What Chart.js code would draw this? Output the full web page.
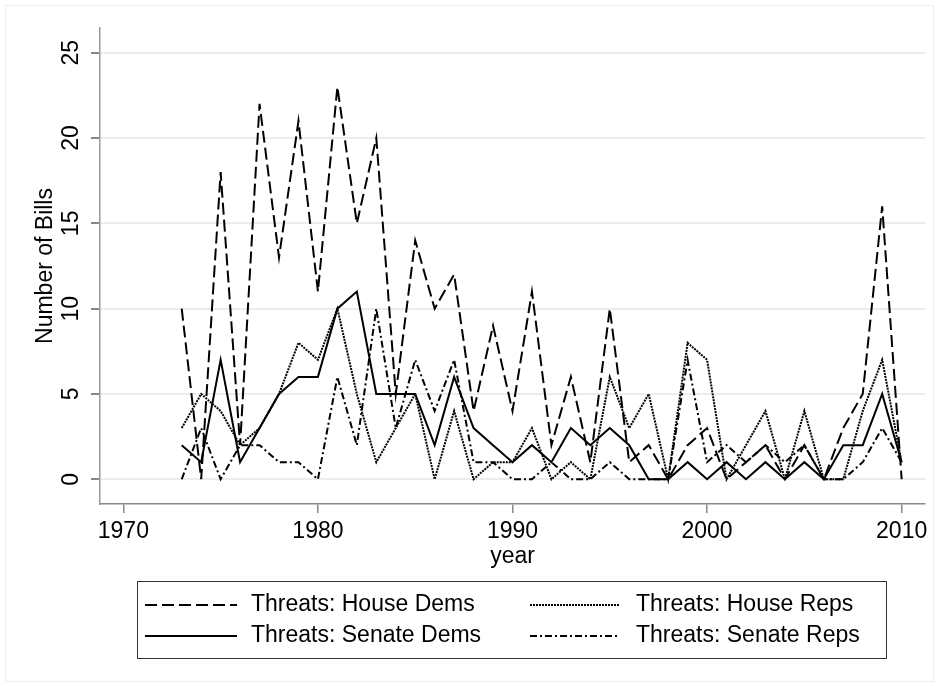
<!DOCTYPE html>
<html><head><meta charset="utf-8">
<script src="https://cdn.jsdelivr.net/npm/chart.js@4/dist/chart.umd.min.js"></script>
<style>html,body{margin:0;padding:0;background:#fff}#wrap{width:939px;height:687px;position:relative}</style>
</head><body><div id="wrap"><canvas id="c" width="939" height="687"></canvas></div>
<script>
const years = [1973,1974,1975,1976,1977,1978,1979,1980,1981,1982,1983,1984,1985,1986,1987,1988,1989,1990,1991,1992,1993,1994,1995,1996,1997,1998,1999,2000,2001,2002,2003,2004,2005,2006,2007,2008,2009,2010];
const houseDems  = [10,0,18,2,22,13,21,11,23,15,20,5,14,10,12,4,9,4,11,2,6,1,10,1,2,0,2,3,0,1,2,0,2,0,3,5,16,0];
const houseReps  = [3,5,4,2,3,5,8,7,10,5,1,3,5,0,4,0,1,1,3,0,1,0,6,3,5,0,8,7,0,2,4,0,4,0,0,4,7,1];
const senateDems = [2,1,7,1,3,5,6,6,10,11,5,5,5,2,6,3,2,1,2,1,3,2,3,2,0,0,1,0,1,0,1,0,1,0,2,2,5,1];
const senateReps = [0,3,0,2,2,1,1,0,6,2,10,3,7,4,7,1,1,0,0,1,0,0,1,0,0,0,7,1,2,1,2,1,2,0,0,1,3,1];
const seriesNames = ['Threats: House Dems','Threats: House Reps','Threats: Senate Dems','Threats: Senate Reps'];
const xTicks = [1970,1980,1990,2000,2010];
const yTicks = [0,5,10,15,20,25];
const xTitle = 'year';
const yTitle = 'Number of Bills';

const FONT = 'Liberation Sans, Arial, sans-serif';
const FS = 23;
const toPts = arr => arr.map((v,i)=>({x: years[i], y: v}));
const styles = [
  {dash:[12,5], w:2},
  {dash:[2,1], w:2},
  {dash:[], w:2},
  {dash:[7,3,2,3], w:2}
];
const series = [houseDems, houseReps, senateDems, senateReps];
const datasets = series.map((s,i)=>({
  label: seriesNames[i], data: toPts(s), borderColor:'#000', backgroundColor:'#000',
  borderWidth: styles[i].w, borderDash: styles[i].dash, pointRadius:0, tension:0, fill:false,
  borderCapStyle:'butt', borderJoinStyle:'miter'
}));

const extras = {
  id:'extras',
  beforeDraw(chart){
    const ctx = chart.ctx;
    ctx.save(); ctx.fillStyle='#fff'; ctx.fillRect(0,0,chart.width,chart.height);
    ctx.strokeStyle='#eceff2'; ctx.lineWidth=1; ctx.strokeRect(5.5,5.5,chart.width-11,chart.height-11);
    ctx.restore();
  },
  afterDraw(chart){
    const ctx = chart.ctx, ca = chart.chartArea;
    ctx.save();
    ctx.fillStyle='#000'; ctx.font=FS+'px '+FONT; ctx.textAlign='center'; ctx.textBaseline='middle';
    ctx.fillText(xTitle, (ca.left+ca.right)/2, 557);
    ctx.translate(46,(ca.top+ca.bottom)/2); ctx.rotate(-Math.PI/2); ctx.fillText(yTitle,0,0);
    ctx.restore();
    // legend
    ctx.save();
    ctx.strokeStyle='#333'; ctx.lineWidth=1; ctx.strokeRect(137.5,581.5,749,77);
    const cols=[{s:145,e:237,t:251},{s:530,e:620,t:636}];
    const rows=[605,636];
    chart.data.datasets.forEach((ds,i)=>{
      const c=cols[i%2], r=rows[Math.floor(i/2)];
      ctx.beginPath(); ctx.setLineDash(ds.borderDash||[]); ctx.lineWidth=ds.borderWidth; ctx.strokeStyle=ds.borderColor;
      ctx.moveTo(c.s,r); ctx.lineTo(c.e,r); ctx.stroke(); ctx.setLineDash([]);
      ctx.fillStyle='#000'; ctx.font=FS+'px '+FONT; ctx.textAlign='left'; ctx.textBaseline='middle';
      ctx.fillText(ds.label,c.t,r);
    });
    ctx.restore();
  }
};

new Chart(document.getElementById('c'),{
  type:'line',
  data:{datasets},
  options:{
    responsive:false, animation:false, devicePixelRatio:1,
    layout:{padding:{top:28,right:14,left:0,bottom:0}},
    plugins:{legend:{display:false},tooltip:{enabled:false}},
    scales:{
      x:{type:'linear',min:1968.8,max:2011.2,
        afterBuildTicks:s=>{s.ticks=xTicks.map(v=>({value:v}));},
        afterFit:s=>{s.height=183;},
        grid:{drawOnChartArea:false,drawTicks:true,tickLength:9,tickColor:'#888',lineWidth:1.5},
        border:{color:'#888',width:1.5},
        ticks:{color:'#000',font:{family:FONT,size:FS},padding:5,maxRotation:0,minRotation:0,callback:v=>String(v)}
      },
      y:{type:'linear',min:-1.45,max:26.45,
        afterBuildTicks:s=>{s.ticks=yTicks.map(v=>({value:v}));},
        afterFit:s=>{s.width=100;},
        grid:{color:'#ececec',lineWidth:2,drawTicks:true,tickLength:9,tickColor:'#888'},
        border:{color:'#999',width:1.5},
        ticks:{color:'#000',font:{family:FONT,size:FS},padding:7,minRotation:90,maxRotation:90,crossAlign:'center',callback:v=>String(v)}
      }
    }
  },
  plugins:[extras]
});
</script></body></html>
